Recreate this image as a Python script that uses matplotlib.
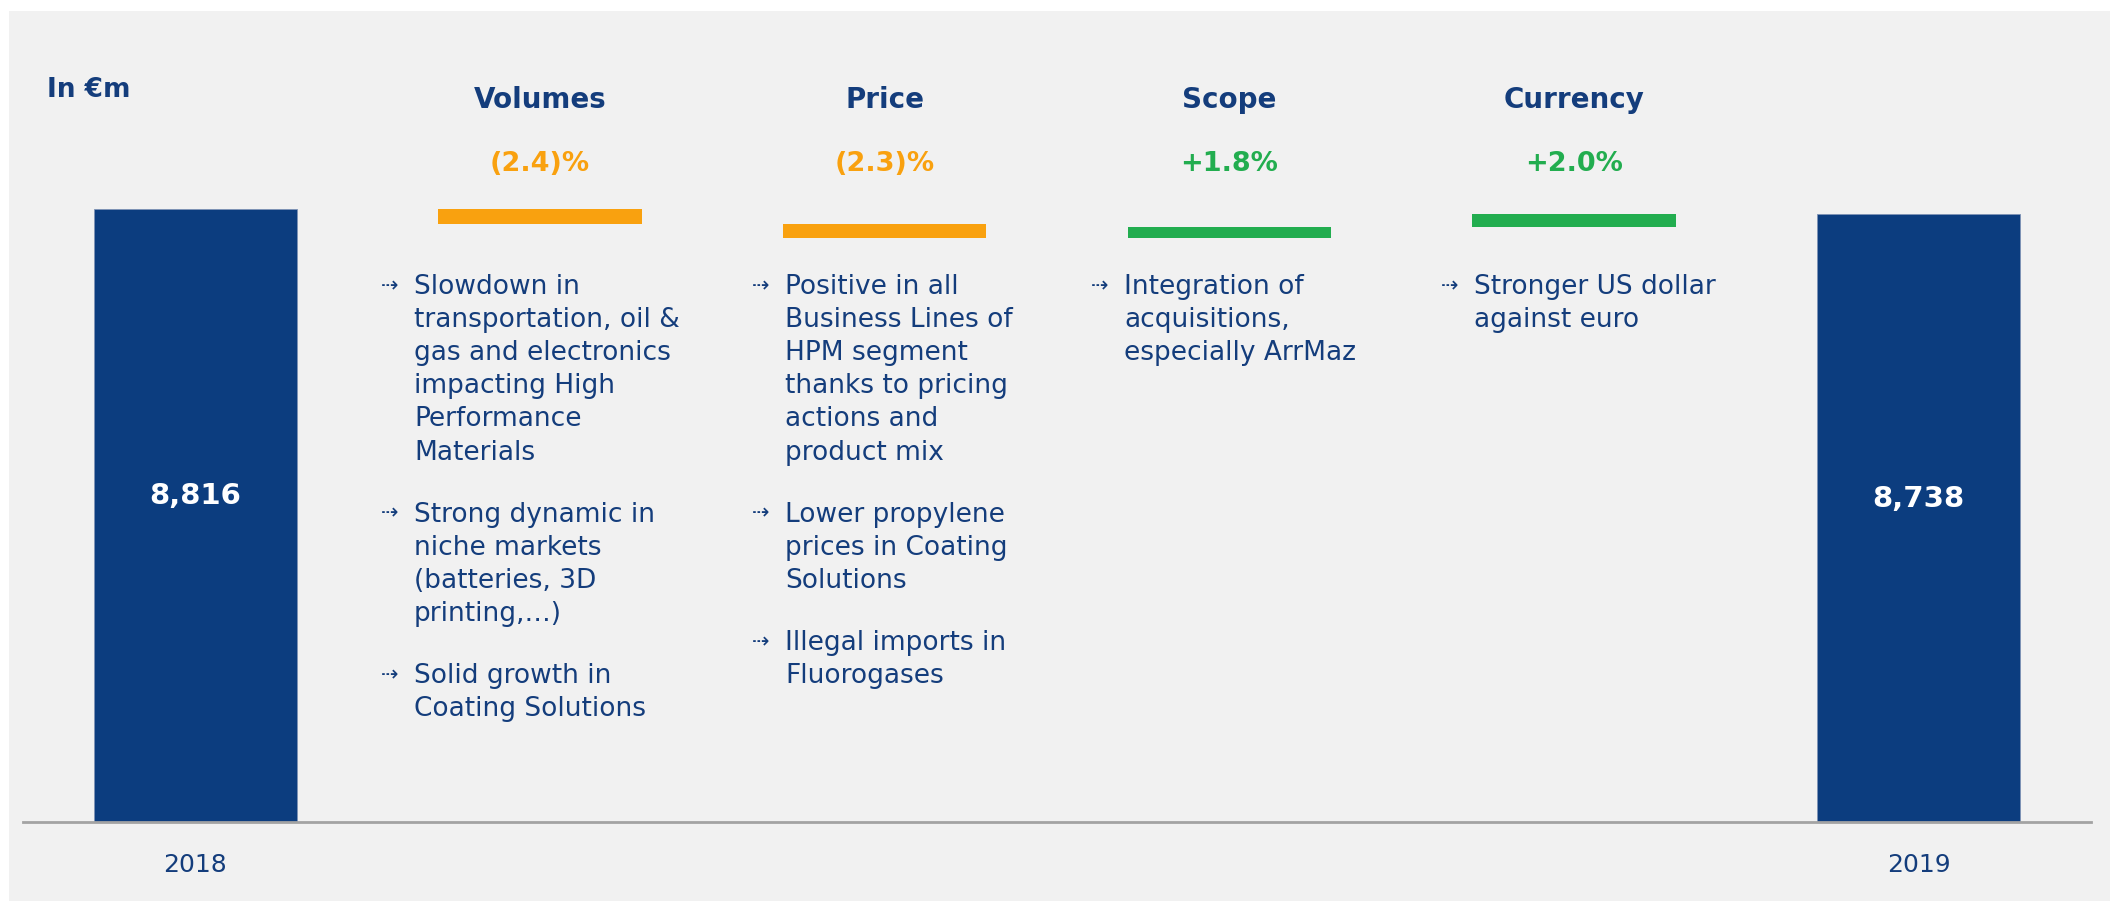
import matplotlib
matplotlib.use('Agg')
import matplotlib.pyplot as plt
import matplotlib.transforms as mtransforms
from matplotlib.patches import Rectangle

'''Sales bridge 2018 -> 2019, waterfall with comments under each step.'''

## Data

categories = ['2018', 'Volumes', 'Price', 'Scope', 'Currency', '2019']
start_value = 8816
end_value = 8738
deltas = [-211, -203, 159, 177]          # volumes, price, scope, currency (in €m)
delta_labels = ['(2.4)%', '(2.3)%', '+1.8%', '+2.0%']
total_labels = ['8,816', '8,738']

comments = [
    [['Slowdown in', 'transportation, oil &', 'gas and electronics',
      'impacting High', 'Performance', 'Materials'],
     ['Strong dynamic in', 'niche markets', '(batteries, 3D', 'printing,…)'],
     ['Solid growth in', 'Coating Solutions']],
    [['Positive in all', 'Business Lines of', 'HPM segment',
      'thanks to pricing', 'actions and', 'product mix'],
     ['Lower propylene', 'prices in Coating', 'Solutions'],
     ['Illegal imports in', 'Fluorogases']],
    [['Integration of', 'acquisitions,', 'especially ArrMaz']],
    [['Stronger US dollar', 'against euro']],
]

## Style / layout (pixels of the 2110x901 picture)

W, H = 2110, 901
NAVY = '#0C3D7F'
TEXT_NAVY = '#143D7C'
ORANGE = '#F9A10F'
GREEN = '#22AD4F'
PANEL = '#F1F1F1'

comment_left_px = [414, 785, 1124, 1474]
comment_top_px = 287
line_h = 33.1
para_gap = 29

fig = plt.figure(figsize=(W / 100, H / 100), dpi=100)
fig.patch.set_facecolor('white')
fig.patches.append(Rectangle((9 / W, 0), 1 - 9 / W, 1 - 11 / H,
                             transform=fig.transFigure, facecolor=PANEL,
                             edgecolor='none', zorder=-10))

base_px = 822
ax = fig.add_axes([23 / W, (H - base_px) / H, 2068 / W, base_px / H])
ax.set_facecolor('none')
px_per_unit = (base_px - 209) / start_value
ax.set_ylim(0, base_px / px_per_unit)
ax.set_xlim(-0.5, 5.5)

for s in ['top', 'right', 'left']:
    ax.spines[s].set_visible(False)
ax.spines['bottom'].set_color('#A3A3A3')
ax.spines['bottom'].set_linewidth(2)
ax.set_xticks([])
ax.set_yticks([])

## Bars

bar_w = 0.59
ax.bar([0, 5], [start_value, end_value], width=bar_w, color=NAVY,
       edgecolor='#7F93B5', linewidth=0.6)

level = start_value
for i, d in enumerate(deltas):
    bottom = min(level, level + d)
    ax.bar(i + 1, abs(d), bottom=bottom, width=bar_w,
           color=ORANGE if d < 0 else GREEN, edgecolor='none')
    level += d

for x, v, lab in zip([0, 5], [start_value, end_value], total_labels):
    ax.text(x, v * 0.532, lab, ha='center', va='center', color='white',
            fontsize=21, fontweight='bold')

## Texts

def fy(px):
    return 1 - px / H

blend = mtransforms.blended_transform_factory(ax.transData, fig.transFigure)

for x, name in zip([0, 5], [categories[0], categories[5]]):
    fig.text(x, fy(865), name, transform=blend, ha='center', va='center',
             color=TEXT_NAVY, fontsize=18)

for i, (name, lab, d) in enumerate(zip(categories[1:5], delta_labels, deltas)):
    fig.text(i + 1, fy(100), name, transform=blend, ha='center', va='center',
             color=TEXT_NAVY, fontsize=20, fontweight='bold')
    fig.text(i + 1, fy(164), lab, transform=blend, ha='center', va='center',
             color=ORANGE if d < 0 else GREEN, fontsize=19.5, fontweight='bold')

fig.text(47 / W, fy(90), 'In €m', ha='left', va='center', color=TEXT_NAVY,
         fontsize=19, fontweight='bold')

for col, paras in enumerate(comments):
    x = comment_left_px[col] / W
    y = comment_top_px
    for para in paras:
        fig.text(x - 33 / W, fy(y - 1), '⇢', ha='left', va='center',
                 color=TEXT_NAVY, fontsize=15)
        for line in para:
            fig.text(x, fy(y), line, ha='left', va='center',
                     color=TEXT_NAVY, fontsize=19)
            y += line_h
        y += para_gap

fig.savefig('out.png', dpi=100, facecolor=fig.get_facecolor())
